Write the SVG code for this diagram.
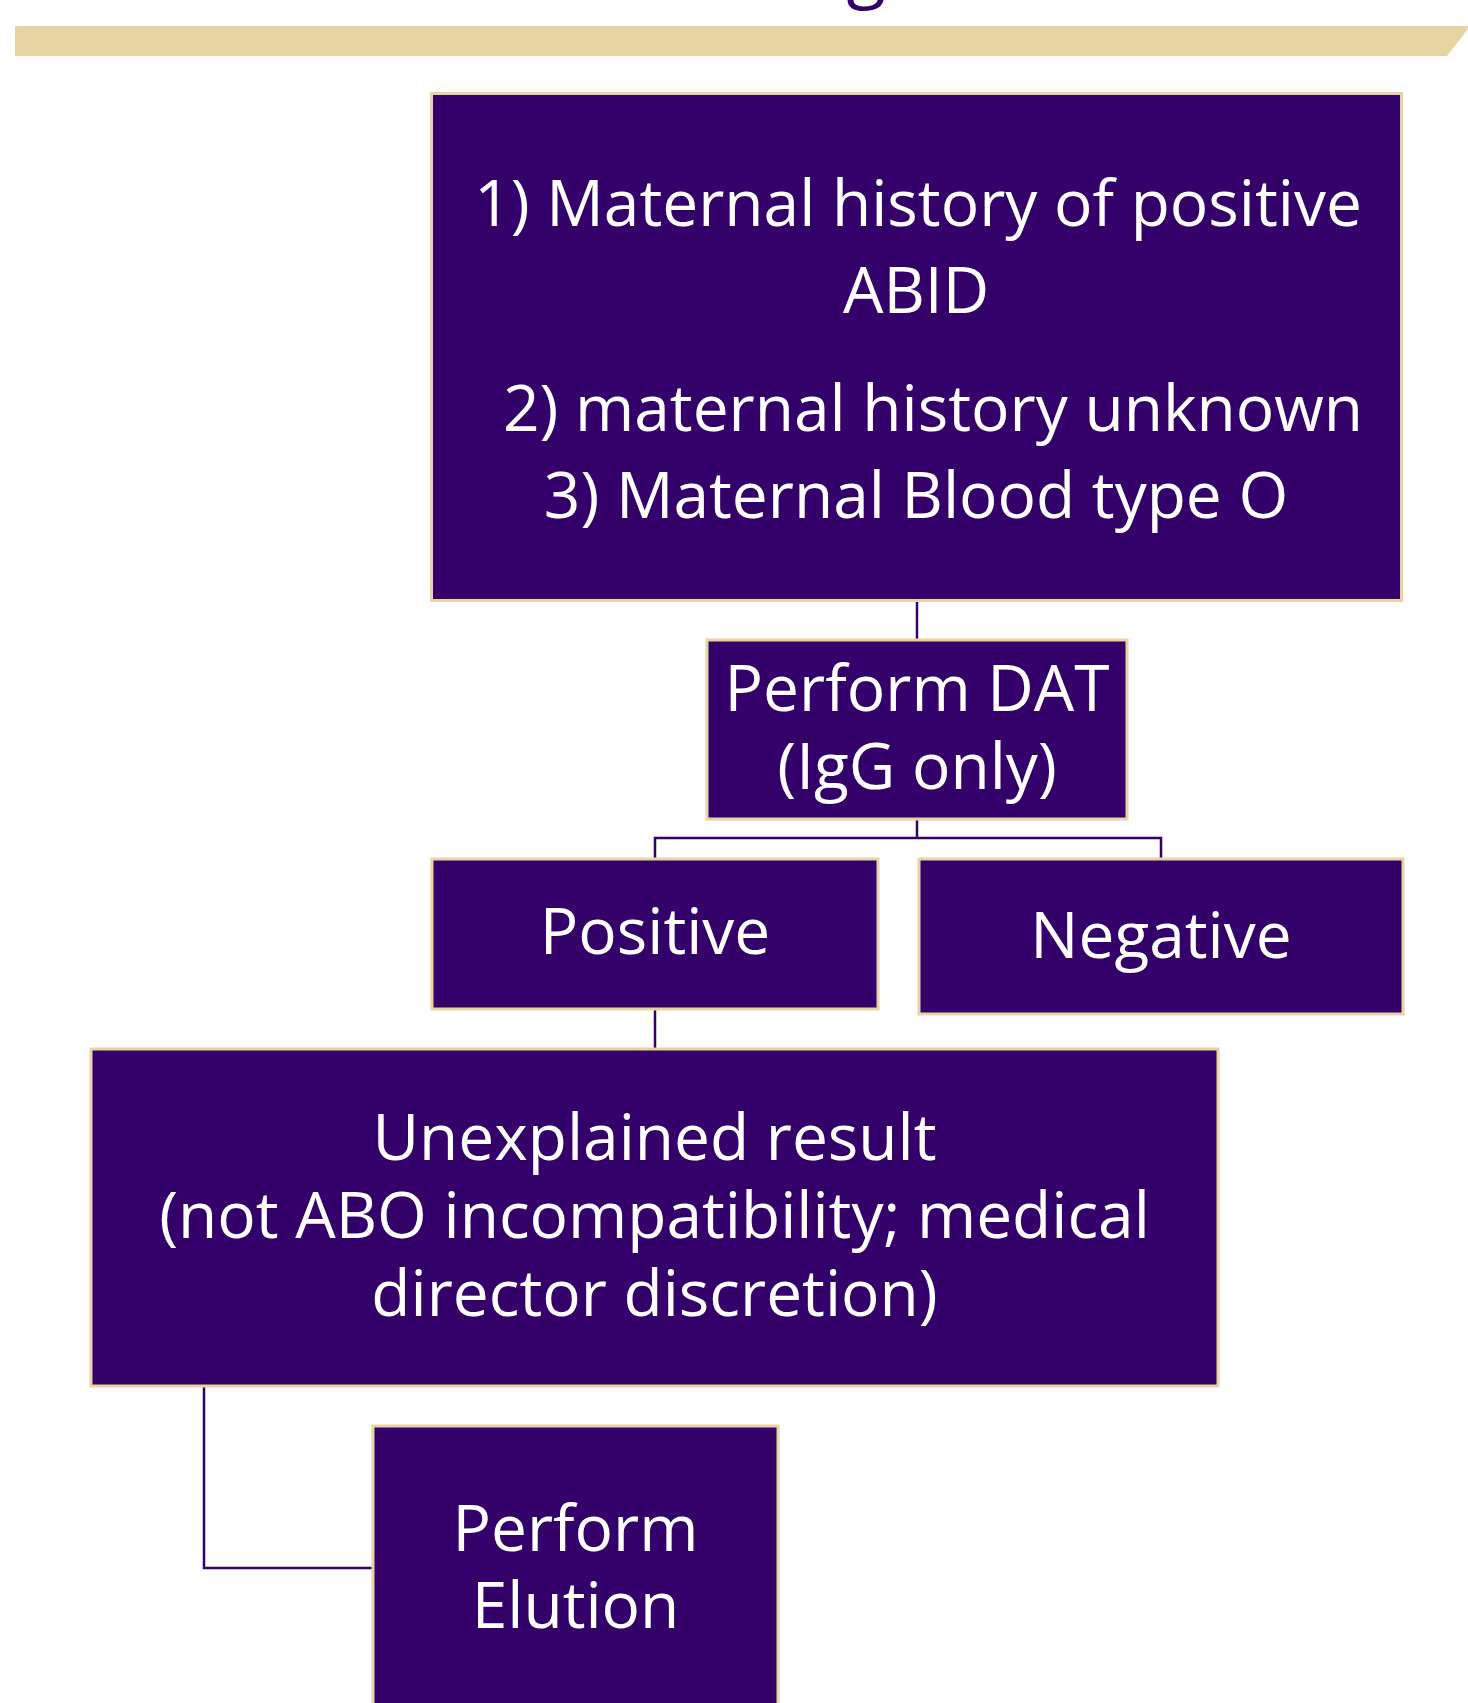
<svg xmlns="http://www.w3.org/2000/svg" width="1468" height="1703" viewBox="0 0 1468 1703">
<style>
.box{fill:#34006A;stroke:#E8D3A2;stroke-width:3}
.t{font-family:"Open Sans","Noto Sans",sans-serif;fill:#FFFFFF;font-size:64px;text-anchor:middle}
.c{fill:none;stroke:#34006A;stroke-width:2.5}
</style>
<rect width="1468" height="1703" fill="#FFFFFF"/>
<g id="title">
<text x="866" y="-6" font-family="'Open Sans','Noto Sans',sans-serif" font-size="72" fill="#34006A" text-anchor="middle">g</text>
<polygon points="15,26 1468,26 1468,29 1447,56 15,56" fill="#E8D3A2"/>
</g>
<g id="connectors">
<line class="c" x1="917" y1="601" x2="917" y2="640"/>
<polyline class="c" points="917,819 917,838"/>
<polyline class="c" points="655,859 655,838 1161,838 1161,859"/>
<line class="c" x1="655" y1="1009" x2="655" y2="1049"/>
<polyline class="c" points="204,1387 204,1568 373,1568"/>
</g>
<g id="node-criteria">
<rect class="box" x="431.5" y="93.5" width="970" height="507"/>
<text class="t" x="918" y="226">1) Maternal history of positive</text>
<text class="t" x="916" y="313">ABID</text>
<text class="t" x="933" y="431">2) maternal history unknown</text>
<text class="t" x="916" y="518">3) Maternal Blood type O</text>
</g>
<g id="node-dat">
<rect class="box" x="707" y="640" width="420" height="179"/>
<text class="t" x="917" y="711">Perform DAT</text>
<text class="t" x="917" y="789">(IgG only)</text>
</g>
<g id="node-positive">
<rect class="box" x="432" y="859" width="446" height="150"/>
<text class="t" x="655" y="954">Positive</text>
</g>
<g id="node-negative">
<rect class="box" x="919" y="859" width="484" height="155"/>
<text class="t" x="1161" y="958">Negative</text>
</g>
<g id="node-unexplained">
<rect class="box" x="91" y="1049" width="1127" height="337"/>
<text class="t" x="654.5" y="1160">Unexplained result</text>
<text class="t" x="654.5" y="1238">(not ABO incompatibility; medical</text>
<text class="t" x="654.5" y="1316">director discretion)</text>
</g>
<g id="node-elution">
<rect class="box" x="373" y="1426" width="405" height="300"/>
<text class="t" x="575.5" y="1551">Perform</text>
<text class="t" x="575.5" y="1628">Elution</text>
</g>
</svg>
